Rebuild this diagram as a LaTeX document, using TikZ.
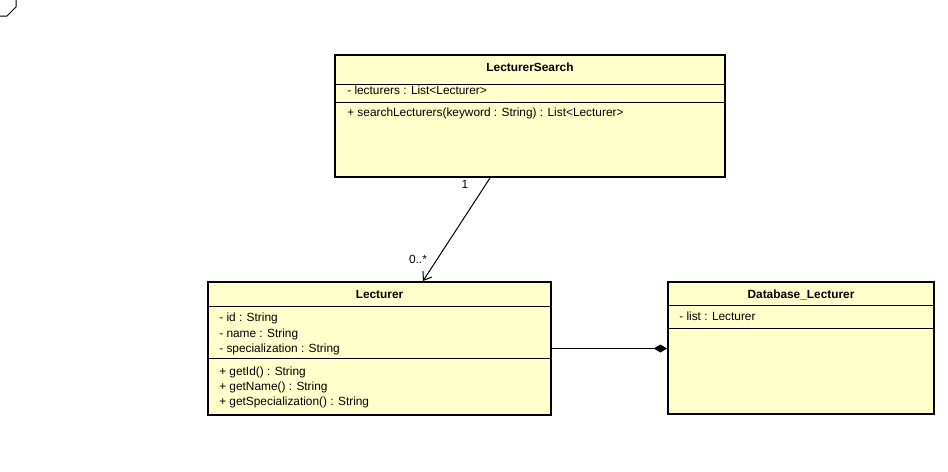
\documentclass[tikz,border=0pt]{standalone}
\usepackage{fontspec}
\setmainfont{Liberation Sans}
\usetikzlibrary{arrows.meta}
\definecolor{clsfill}{HTML}{FFFFCC}
\tikzset{
  cls/.style={draw=black, fill=clsfill, line width=1.5pt, inner sep=0pt, rectangle},
  sep/.style={line width=0.75pt},
  txt/.style={anchor=base west, inner sep=0pt, font=\fontsize{8.9pt}{10pt}\selectfont},
  ttl/.style={anchor=base, inner sep=0pt, font=\fontsize{8.9pt}{10pt}\selectfont\bfseries},
  lbl/.style={anchor=base, inner sep=0pt, font=\fontsize{8.9pt}{10pt}\selectfont},
  conn/.style={line width=0.75pt},
}
\begin{document}
\begin{tikzpicture}[x=0.75pt,y=-0.75pt]
\useasboundingbox (0,0) rectangle (948,471);
% frame corner
\draw[line width=0.75pt] (16,0) -- (16,7) -- (7,16) -- (0,16);

% LecturerSearch
\node[cls, minimum width=292.5pt, minimum height=91.5pt] (ls) at (530,116) {};
\draw[sep] (ls.west |- 0,84) -- (ls.east |- 0,84);
\draw[sep] (ls.west |- 0,102) -- (ls.east |- 0,102);
\node[ttl] (lsT) at (530,71) {LecturerSearch};
\node[txt] (lsA) at (347,94) {- lecturers : List<Lecturer>};
\node[txt] (lsM) at (347,116) {+ searchLecturers(keyword : String) : List<Lecturer>};

% Lecturer
\node[cls, minimum width=257.25pt, minimum height=99.75pt] (lec) at (379.5,348.5) {};
\draw[sep] (lec.west |- 0,306) -- (lec.east |- 0,306);
\draw[sep] (lec.west |- 0,358) -- (lec.east |- 0,358);
\node[ttl] (lecT) at (379.5,298) {Lecturer};
\node[txt] (lecA1) at (219,321) {- id : String};
\node[txt] (lecA2) at (219,337) {- name : String};
\node[txt] (lecA3) at (219,352) {- specialization : String};
\node[txt] (lecM1) at (219,375) {+ getId() : String};
\node[txt] (lecM2) at (219,390) {+ getName() : String};
\node[txt] (lecM3) at (219,405) {+ getSpecialization() : String};

% Database_Lecturer
\node[cls, minimum width=199.5pt, minimum height=99pt] (db) at (801,348) {};
\draw[sep] (db.west |- 0,305) -- (db.east |- 0,305);
\draw[sep] (db.west |- 0,328) -- (db.east |- 0,328);
\node[ttl] (dbT) at (801,298) {Database\_Lecturer};
\node[txt] (dbA) at (679,320) {- list : Lecturer};

% association
\draw[conn, -{Straight Barb[length=5.5pt,width=8pt]}] ([xshift=-30pt]ls.south) -- ([xshift=32.6pt]lec.north);
\node[lbl] (m1) at (465,188) {1};
\node[lbl] (m2) at (418,263) {0..*};

% composition
\draw[conn, -{Diamond[length=10pt,width=6pt]}] (lec.east) -- (lec.east -| db.west);
\end{tikzpicture}
\end{document}
